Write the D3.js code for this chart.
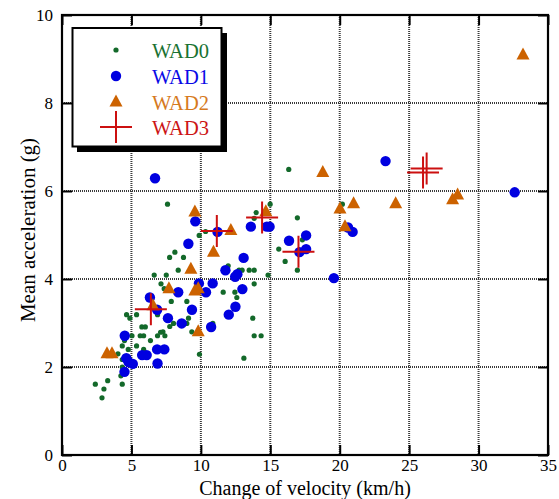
<!DOCTYPE html>
<html><head><meta charset="utf-8">
<script src="https://cdn.jsdelivr.net/npm/d3@7"></script>
<style>body{margin:0;background:#fff}svg{display:block}text{font-family:"Liberation Serif","Times New Roman",serif}</style>
</head><body><svg id="c" width="559" height="499"></svg>
<script>
const xTicks = [0,5,10,15,20,25,30,35];
const yTicks = [0,2,4,6,8,10];
const xTitle = "Change of velocity (km/h)";
const yTitle = "Mean acceleration (g)";
const seriesNames = ["WAD0","WAD1","WAD2","WAD3"];
const seriesColors = ["#13692a","#0000e0","#cc6200","#cc1010"];
const textColors = ["#1a7232","#0a0ae6","#d67a1e","#cc1515"];

const wad0 = [[16.33,6.49],[7.6,5.7],[20.19,5.7],[14.99,5.7],[13.98,5.51],[13.84,5.38],[16.95,5.39],[10.34,5.08],[9.88,4.99],[17.31,4.89],[15.61,4.68],[16.07,4.4],[16.95,4.2],[8.13,4.61],[7.75,4.49],[8.75,4.49],[8.37,4.2],[11.97,4.3],[12.75,4.2],[12.97,4.2],[13.48,4.2],[13.84,4.2],[14.84,4.09],[6.64,4.09],[7.51,4.09],[7.13,3.89],[13.84,3.89],[7.36,3.78],[11.61,3.7],[12.45,3.7],[12.59,3.58],[7.87,3.49],[8.99,3.49],[5.37,3.19],[4.65,3.19],[4.89,3.11],[6.88,3.19],[5.75,2.91],[6.0,2.91],[8.03,2.99],[7.76,2.92],[9.11,3.11],[8.99,2.99],[10.86,2.99],[13.74,3.11],[5.04,2.71],[5.63,2.71],[5.88,2.71],[6.37,2.6],[6.88,2.71],[7.27,2.8],[7.41,2.71],[9.35,2.8],[13.84,2.71],[14.34,2.71],[4.34,2.48],[4.77,2.4],[5.37,2.48],[5.88,2.4],[4.03,2.3],[4.34,2.17],[9.9,2.29],[13.1,2.2],[4.34,2.0],[4.24,1.8],[3.29,1.69],[2.4,1.61],[3.02,1.5],[4.34,1.61],[2.88,1.3],[4.5,2.6],[7.1,2.79]];
const wad1 = [[6.7,6.29],[23.3,6.68],[32.6,5.97],[9.6,5.31],[11.2,5.07],[9.1,4.8],[13.6,5.19],[14.75,5.19],[14.95,5.19],[16.35,4.87],[17.58,4.99],[17.58,4.68],[17.1,4.61],[20.93,5.07],[20.6,5.17],[19.58,4.02],[13.08,4.48],[11.77,4.2],[12.47,4.05],[12.63,4.11],[9.86,3.9],[10.85,3.9],[10.37,3.7],[12.99,3.77],[8.37,3.7],[9.36,3.3],[12.49,3.37],[12.01,3.19],[10.74,2.91],[8.62,2.99],[7.63,3.11],[6.33,3.58],[6.85,3.3],[4.52,2.71],[6.85,2.4],[7.37,2.4],[5.77,2.27],[6.1,2.27],[4.63,2.2],[4.8,2.11],[5.1,2.07],[6.88,2.08],[4.5,1.89]];
const wad2 = [[3.24,2.3],[3.6,2.3],[6.55,3.39],[7.7,3.78],[9.28,4.22],[9.57,5.52],[9.57,3.73],[9.81,3.78],[9.81,2.8],[10.91,4.61],[12.16,5.1],[14.68,5.53],[18.78,6.42],[20.02,5.59],[20.38,5.19],[21.0,5.71],[24.03,5.71],[28.13,5.8],[28.49,5.91],[33.2,9.09]];
const wad3 = [[6.4,3.31],[11.15,5.09],[14.41,5.4],[17.03,4.62],[26.0,6.42],[26.26,6.51]];

const svg = d3.select("#c");
const x = d3.scaleLinear().domain([0,35]).range([62,548]);
const y = d3.scaleLinear().domain([0,10]).range([455,15]);

// grid
const grid = svg.append("g").attr("stroke","#3a3a3a").attr("stroke-width",2).attr("stroke-dasharray","1,1");
grid.selectAll(".gx").data(xTicks.slice(1,-1)).enter().append("line")
  .attr("x1",d=>x(d)).attr("x2",d=>x(d)).attr("y1",y(10)).attr("y2",y(0));
grid.selectAll(".gy").data(yTicks.slice(1,-1)).enter().append("line")
  .attr("y1",d=>y(d)).attr("y2",d=>y(d)).attr("x1",x(0)).attr("x2",x(35));

function styleAxis(g){
  g.attr("font-family",null);
  g.select(".domain").remove();
  g.selectAll(".tick line").attr("stroke","#000").attr("stroke-width",2);
  g.selectAll("text").attr("font-size",17).attr("fill","#000").style("font-family","'Liberation Serif', serif");
}
svg.append("g").attr("transform",`translate(0,${y(0)})`)
  .call(d3.axisBottom(x).tickValues(xTicks).tickSize(-10).tickPadding(4)).call(styleAxis);
svg.append("g").attr("transform",`translate(0,${y(10)})`)
  .call(d3.axisTop(x).tickValues(xTicks).tickSize(-10).tickFormat("")).call(styleAxis);
svg.append("g").attr("transform",`translate(${x(0)},0)`)
  .call(d3.axisLeft(y).tickValues(yTicks).tickSize(-10).tickPadding(9)).call(styleAxis);
svg.append("g").attr("transform",`translate(${x(35)},0)`)
  .call(d3.axisRight(y).tickValues(yTicks).tickSize(-10).tickFormat("")).call(styleAxis);

svg.append("rect").attr("x",x(0)).attr("y",y(10)).attr("width",x(35)-x(0)).attr("height",y(0)-y(10))
  .attr("fill","none").attr("stroke","#000").attr("stroke-width",2.2);

const tri = "M0,-7.5L6.5,4.5L-6.5,4.5Z";
const cross = "M-16,0H16M0,-16V16";

const plot = svg.append("g");
plot.selectAll(".p0").data(wad0).enter().append("circle")
  .attr("cx",d=>x(d[0])).attr("cy",d=>y(d[1])).attr("r",2.6).attr("fill",seriesColors[0]);
plot.selectAll(".p1").data(wad1).enter().append("circle")
  .attr("cx",d=>x(d[0])).attr("cy",d=>y(d[1])).attr("r",5.2).attr("fill",seriesColors[1]);
plot.selectAll(".p2").data(wad2).enter().append("path")
  .attr("transform",d=>`translate(${x(d[0])},${y(d[1])})`).attr("d",tri).attr("fill",seriesColors[2]);
plot.selectAll(".p3").data(wad3).enter().append("path")
  .attr("transform",d=>`translate(${x(d[0])},${y(d[1])})`).attr("d",cross)
  .attr("stroke",seriesColors[3]).attr("stroke-width",2).attr("fill","none");

// legend
const lg = svg.append("g");
lg.append("rect").attr("x",77).attr("y",33).attr("width",150).attr("height",119).attr("fill","#000");
lg.append("rect").attr("x",72.5).attr("y",28).attr("width",149).attr("height",118.5).attr("fill","#fff").attr("stroke","#000").attr("stroke-width",2);
const rows = [50,76,102,127];
lg.append("circle").attr("cx",116).attr("cy",rows[0]).attr("r",2.6).attr("fill",seriesColors[0]);
lg.append("circle").attr("cx",116).attr("cy",rows[1]).attr("r",5.2).attr("fill",seriesColors[1]);
lg.append("path").attr("transform",`translate(116,${rows[2]})`).attr("d",tri).attr("fill",seriesColors[2]);
lg.append("path").attr("transform",`translate(116,${rows[3]})`).attr("d",cross).attr("stroke",seriesColors[3]).attr("stroke-width",2);
lg.selectAll(".lt").data(seriesNames).enter().append("text")
  .attr("x",152).attr("y",(d,i)=>rows[i]+7.5).attr("font-size",20.5).attr("fill",(d,i)=>textColors[i]).text(d=>d);

svg.append("text").attr("x",(x(0)+x(35))/2).attr("y",495).attr("text-anchor","middle").attr("font-size",20).text(xTitle);
svg.append("text").attr("transform",`translate(28,230) rotate(-90)`).attr("text-anchor","middle").attr("dy","0.35em").attr("font-size",21).text(yTitle);
</script></body></html>
